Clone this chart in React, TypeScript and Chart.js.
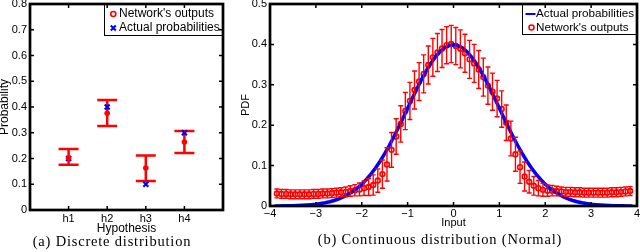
import React, { useEffect, useRef } from 'react';
import { Chart, registerables } from 'chart.js';

Chart.register(...registerables);

// ---------- (a) Discrete distribution ----------
const hypotheses = ['h1', 'h2', 'h3', 'h4'];
const hypothesisPos = [1, 2, 3, 4];
const discreteNetwork = [0.201, 0.376, 0.163, 0.264];
const discreteLower = [0.176, 0.326, 0.113, 0.221];
const discreteUpper = [0.237, 0.427, 0.212, 0.307];
const discreteActual = [0.2, 0.4, 0.1, 0.3];
const discreteYTicks = [0, 0.1, 0.2, 0.3, 0.4, 0.5, 0.6, 0.7, 0.8];

// ---------- (b) Continuous distribution (Normal) ----------
const inputX = [
  -3.85, -3.75, -3.65, -3.55, -3.45, -3.35, -3.25, -3.15, -3.05, -2.95,
  -2.85, -2.75, -2.65, -2.55, -2.45, -2.35, -2.25, -2.15, -2.05, -1.95,
  -1.85, -1.75, -1.65, -1.55, -1.45, -1.35, -1.25, -1.15, -1.05, -0.95,
  -0.85, -0.75, -0.65, -0.55, -0.45, -0.35, -0.25, -0.15, -0.05,
  0.05, 0.15, 0.25, 0.35, 0.45, 0.55, 0.65, 0.75, 0.85, 0.95,
  1.05, 1.15, 1.25, 1.35, 1.45, 1.55, 1.65, 1.75, 1.85, 1.95,
  2.05, 2.15, 2.25, 2.35, 2.45, 2.55, 2.65, 2.75, 2.85, 2.95,
  3.05, 3.15, 3.25, 3.35, 3.45, 3.55, 3.65, 3.75, 3.85,
];
const networkPdf = [
  0.031, 0.030, 0.030, 0.029, 0.029, 0.029, 0.029, 0.029, 0.030, 0.030,
  0.031, 0.031, 0.032, 0.033, 0.034, 0.035, 0.037, 0.039, 0.041, 0.044,
  0.047, 0.052, 0.063, 0.079, 0.103, 0.139, 0.172, 0.203, 0.235, 0.260,
  0.287, 0.308, 0.327, 0.349, 0.368, 0.380, 0.390, 0.398, 0.401,
  0.396, 0.389, 0.378, 0.363, 0.353, 0.338, 0.319, 0.298, 0.283, 0.266,
  0.240, 0.206, 0.167, 0.128, 0.096, 0.073, 0.060, 0.050, 0.044, 0.040,
  0.038, 0.038, 0.037, 0.036, 0.035, 0.035, 0.034, 0.034, 0.033, 0.033,
  0.033, 0.033, 0.033, 0.033, 0.034, 0.034, 0.035, 0.036, 0.037,
];
const networkErr = [
  0.011, 0.011, 0.011, 0.011, 0.011, 0.011, 0.011, 0.011, 0.011, 0.011,
  0.011, 0.011, 0.011, 0.011, 0.011, 0.012, 0.013, 0.014, 0.016, 0.018,
  0.021, 0.025, 0.029, 0.035, 0.041, 0.043, 0.044, 0.045, 0.046, 0.046,
  0.047, 0.047, 0.047, 0.047, 0.047, 0.047, 0.047, 0.046, 0.046,
  0.046, 0.047, 0.047, 0.047, 0.047, 0.047, 0.047, 0.046, 0.046, 0.045,
  0.045, 0.044, 0.043, 0.042, 0.040, 0.036, 0.028, 0.023, 0.019, 0.016,
  0.014, 0.013, 0.012, 0.011, 0.011, 0.011, 0.011, 0.011, 0.011, 0.011,
  0.011, 0.011, 0.011, 0.011, 0.011, 0.011, 0.011, 0.011, 0.011,
];
const curveX = [
  -3.9, -3.8, -3.7, -3.6, -3.5, -3.4, -3.3, -3.2, -3.1, -3.0,
  -2.9, -2.8, -2.7, -2.6, -2.5, -2.4, -2.3, -2.2, -2.1, -2.0,
  -1.9, -1.8, -1.7, -1.6, -1.5, -1.4, -1.3, -1.2, -1.1, -1.0,
  -0.9, -0.8, -0.7, -0.6, -0.5, -0.4, -0.3, -0.2, -0.1, 0.0,
  0.1, 0.2, 0.3, 0.4, 0.5, 0.6, 0.7, 0.8, 0.9, 1.0,
  1.1, 1.2, 1.3, 1.4, 1.5, 1.6, 1.7, 1.8, 1.9, 2.0,
  2.1, 2.2, 2.3, 2.4, 2.5, 2.6, 2.7, 2.8, 2.9, 3.0,
  3.1, 3.2, 3.3, 3.4, 3.5, 3.6, 3.7, 3.8, 3.9,
];
const actualPdf = [
  0.0002, 0.0003, 0.0004, 0.0006, 0.0009, 0.0012, 0.0017, 0.0024, 0.0033, 0.0044,
  0.0060, 0.0079, 0.0104, 0.0136, 0.0175, 0.0224, 0.0283, 0.0355, 0.0440, 0.0540,
  0.0656, 0.0790, 0.0940, 0.1109, 0.1295, 0.1497, 0.1714, 0.1942, 0.2179, 0.2420,
  0.2661, 0.2897, 0.3123, 0.3332, 0.3521, 0.3683, 0.3814, 0.3910, 0.3970, 0.3989,
  0.3970, 0.3910, 0.3814, 0.3683, 0.3521, 0.3332, 0.3123, 0.2897, 0.2661, 0.2420,
  0.2179, 0.1942, 0.1714, 0.1497, 0.1295, 0.1109, 0.0940, 0.0790, 0.0656, 0.0540,
  0.0440, 0.0355, 0.0283, 0.0224, 0.0175, 0.0136, 0.0104, 0.0079, 0.0060, 0.0044,
  0.0033, 0.0024, 0.0017, 0.0012, 0.0009, 0.0006, 0.0004, 0.0003, 0.0002,
];
const inputTicks = [-4, -3, -2, -1, 0, 1, 2, 3, 4];
const pdfTicks = [0, 0.1, 0.2, 0.3, 0.4, 0.5];

const RED = '#ff0000';
const BLUE = '#0000ff';
const SANS = '"Liberation Sans", Arial, Helvetica, sans-serif';

function errorBarPlugin(
  id: string, xs: number[], lo: number[], hi: number[],
  capHalf: number, lw: number, afterIndex: number,
) {
  const draw = (chart: any) => {
    const { ctx } = chart;
    const x = chart.scales.x;
    const y = chart.scales.y;
    ctx.save();
    ctx.strokeStyle = RED;
    ctx.lineWidth = lw;
    ctx.beginPath();
    for (let i = 0; i < xs.length; i++) {
      const px = x.getPixelForValue(xs[i]);
      const pl = y.getPixelForValue(lo[i]);
      const ph = y.getPixelForValue(hi[i]);
      ctx.moveTo(px, pl); ctx.lineTo(px, ph);
      ctx.moveTo(px - capHalf, pl); ctx.lineTo(px + capHalf, pl);
      ctx.moveTo(px - capHalf, ph); ctx.lineTo(px + capHalf, ph);
    }
    ctx.stroke();
    ctx.restore();
  };
  return {
    id,
    beforeDatasetsDraw(chart: any) { if (afterIndex < 0) draw(chart); },
    afterDatasetDraw(chart: any, args: any) { if (afterIndex >= 0 && args.index === afterIndex) draw(chart); },
  };
}

type LegendItem = { kind: 'ring' | 'cross' | 'line'; color: string; text: string };

function decorPlugin(
  id: string, xTicks: number[], yTicks: number[],
  legendBox: { x0: number; y0: number; x1: number; y1: number },
  items: LegendItem[], markerX: number, textX: number, rowY: number[], fontSize: number,
) {
  return {
    id,
    afterDraw(chart: any) {
      const { ctx, chartArea } = chart;
      const x = chart.scales.x;
      const y = chart.scales.y;
      const { left, right, top, bottom } = chartArea;
      ctx.save();
      // legend
      ctx.fillStyle = '#fff';
      ctx.fillRect(legendBox.x0, legendBox.y0, legendBox.x1 - legendBox.x0, legendBox.y1 - legendBox.y0);
      ctx.strokeStyle = '#000';
      ctx.lineWidth = 1;
      ctx.strokeRect(legendBox.x0 + 0.5, legendBox.y0 + 0.5, legendBox.x1 - legendBox.x0, legendBox.y1 - legendBox.y0);
      ctx.font = `${fontSize}px ${SANS}`;
      ctx.textBaseline = 'middle';
      ctx.textAlign = 'left';
      items.forEach((it, i) => {
        const cy = rowY[i];
        if (it.kind === 'ring') {
          ctx.strokeStyle = it.color; ctx.lineWidth = 1.6;
          ctx.beginPath(); ctx.arc(markerX, cy, 2.5, 0, Math.PI * 2); ctx.stroke();
        } else if (it.kind === 'cross') {
          ctx.strokeStyle = it.color; ctx.lineWidth = 2;
          ctx.beginPath();
          ctx.moveTo(markerX - 2.5, cy - 2.5); ctx.lineTo(markerX + 2.5, cy + 2.5);
          ctx.moveTo(markerX + 2.5, cy - 2.5); ctx.lineTo(markerX - 2.5, cy + 2.5);
          ctx.stroke();
        } else {
          ctx.strokeStyle = it.color; ctx.lineWidth = 2;
          ctx.beginPath(); ctx.moveTo(markerX - 6, cy); ctx.lineTo(markerX + 4, cy); ctx.stroke();
        }
        ctx.fillStyle = '#000';
        ctx.fillText(it.text, textX, cy);
      });
      // inward ticks
      ctx.strokeStyle = '#000';
      ctx.lineWidth = 1.5;
      ctx.beginPath();
      xTicks.forEach((v) => {
        const px = x.getPixelForValue(v);
        ctx.moveTo(px, bottom); ctx.lineTo(px, bottom - 4);
        ctx.moveTo(px, top); ctx.lineTo(px, top + 4);
      });
      yTicks.forEach((v) => {
        const py = y.getPixelForValue(v);
        ctx.moveTo(left, py); ctx.lineTo(left + 4, py);
        ctx.moveTo(right, py); ctx.lineTo(right - 4, py);
      });
      ctx.stroke();
      // frame
      ctx.lineWidth = 2.7;
      ctx.strokeRect(left, top, right - left, bottom - top);
      ctx.restore();
    },
  };
}

function fixSize(w: number | null, h: number | null) {
  return (s: any) => {
    if (w !== null) s.width = w;
    if (h !== null) s.height = h;
    s.paddingLeft = 0; s.paddingRight = 0; s.paddingTop = 0; s.paddingBottom = 0;
  };
}

function fmtDec(v: number) {
  return Math.abs(v) < 1e-9 ? '0' : v.toFixed(1);
}

function leftConfig(): any {
  return {
    type: 'scatter',
    data: {
      datasets: [
        {
          label: "Network's outputs",
          data: hypothesisPos.map((x, i) => ({ x, y: discreteNetwork[i] })),
          pointStyle: 'circle', pointRadius: 2.8, backgroundColor: RED, borderColor: RED, borderWidth: 0,
        },
        {
          label: 'Actual probabilities',
          data: hypothesisPos.map((x, i) => ({ x, y: discreteActual[i] })),
          pointStyle: 'crossRot', pointRadius: 3.5, borderColor: BLUE, backgroundColor: BLUE, borderWidth: 2.2,
        },
      ],
    },
    options: {
      responsive: false, animation: false, events: [],
      layout: { padding: { left: 0, top: 4, right: 12, bottom: 0 }, autoPadding: false },
      plugins: { legend: { display: false }, tooltip: { enabled: false } },
      scales: {
        x: {
          type: 'linear', min: 0, max: 5,
          grid: { display: false, drawTicks: false }, border: { display: false },
          afterBuildTicks: (s: any) => { s.ticks = hypothesisPos.map((v) => ({ value: v })); },
          ticks: {
            autoSkip: false, maxRotation: 0, padding: 2, color: '#000', font: { size: 11, family: SANS },
            callback: (v: any) => hypotheses[hypothesisPos.indexOf(Number(v))] ?? '',
          },
          title: { display: true, text: 'Hypothesis', color: '#000', font: { size: 12, family: SANS }, padding: { top: 0, bottom: 0.5 } },
          afterFit: fixSize(null, 26),
        },
        y: {
          type: 'linear', min: 0, max: 0.8,
          grid: { display: false, drawTicks: false }, border: { display: false },
          afterBuildTicks: (s: any) => { s.ticks = discreteYTicks.map((v) => ({ value: v })); },
          ticks: {
            autoSkip: false, padding: 3, color: '#000', font: { size: 11, family: SANS },
            callback: (v: any) => fmtDec(Number(v)),
          },
          title: { display: true, text: 'Probability', color: '#000', font: { size: 12, family: SANS }, padding: { top: -2.7, bottom: 0 } },
          afterFit: fixSize(30, null),
        },
      },
    },
    plugins: [
      errorBarPlugin('ebLeft', hypothesisPos, discreteLower, discreteUpper, 10, 2.5, -1),
      decorPlugin(
        'decorLeft', hypothesisPos, [0.1, 0.2, 0.3, 0.4, 0.5, 0.6, 0.7],
        { x0: 104, y0: 4, x1: 223, y1: 35 },
        [
          { kind: 'ring', color: RED, text: "Network's outputs" },
          { kind: 'cross', color: BLUE, text: 'Actual probabilities' },
        ],
        113.3, 119, [14, 28], 12,
      ),
    ],
  };
}

function rightConfig(): any {
  return {
    type: 'scatter',
    data: {
      datasets: [
        {
          label: 'Actual probabilities',
          data: curveX.map((x, i) => ({ x, y: actualPdf[i] })),
          showLine: true, borderColor: BLUE, borderWidth: 3.5, pointRadius: 0, tension: 0, fill: false,
        },
        {
          label: "Network's outputs",
          data: inputX.map((x, i) => ({ x, y: networkPdf[i] })),
          pointStyle: 'circle', pointRadius: 2.4, borderColor: RED, backgroundColor: 'rgba(0,0,0,0)', borderWidth: 1.6,
        },
      ],
    },
    options: {
      responsive: false, animation: false, events: [],
      layout: { padding: { left: 0, top: 4, right: 3, bottom: 0 }, autoPadding: false },
      plugins: { legend: { display: false }, tooltip: { enabled: false } },
      scales: {
        x: {
          type: 'linear', min: -4, max: 4,
          grid: { display: false, drawTicks: false }, border: { display: false },
          afterBuildTicks: (s: any) => { s.ticks = inputTicks.map((v) => ({ value: v })); },
          ticks: {
            autoSkip: false, maxRotation: 0, padding: 1, color: '#000', font: { size: 11, family: SANS },
            callback: (v: any) => (Number(v) < 0 ? '\u2212' + Math.abs(Number(v)) : String(v)),
          },
          title: { display: true, text: 'Input', color: '#000', font: { size: 11, family: SANS }, padding: { top: 0, bottom: 6 } },
          afterFit: fixSize(null, 30),
        },
        y: {
          type: 'linear', min: 0, max: 0.5,
          grid: { display: false, drawTicks: false }, border: { display: false },
          afterBuildTicks: (s: any) => { s.ticks = pdfTicks.map((v) => ({ value: v })); },
          ticks: {
            autoSkip: false, padding: 3, color: '#000', font: { size: 11, family: SANS },
            callback: (v: any) => fmtDec(Number(v)),
          },
          title: { display: true, text: 'PDF', color: '#000', font: { size: 11, family: SANS }, padding: { top: 4.2, bottom: 0 } },
          afterFit: fixSize(35, null),
        },
      },
    },
    plugins: [
      errorBarPlugin(
        'ebRight', inputX,
        networkPdf.map((v, i) => v - networkErr[i]),
        networkPdf.map((v, i) => v + networkErr[i]),
        2.5, 1.4, 0,
      ),
      decorPlugin(
        'decorRight', [-3, -2, -1, 0, 1, 2, 3], [0.1, 0.2, 0.3, 0.4],
        { x0: 287, y0: 4, x1: 402, y1: 34 },
        [
          { kind: 'line', color: BLUE, text: 'Actual probabilities' },
          { kind: 'ring', color: RED, text: "Network's outputs" },
        ],
        296.5, 301, [14, 27.5], 11.7,
      ),
    ],
  };
}

export default function App() {
  const leftRef = useRef<HTMLCanvasElement>(null);
  const rightRef = useRef<HTMLCanvasElement>(null);

  useEffect(() => {
    Chart.defaults.font.family = SANS;
    Chart.defaults.color = '#000';
    const left = new Chart(leftRef.current as HTMLCanvasElement, leftConfig());
    const right = new Chart(rightRef.current as HTMLCanvasElement, rightConfig());
    return () => {
      left.destroy();
      right.destroy();
    };
  }, []);

  const caption: React.CSSProperties = {
    position: 'absolute',
    fontFamily: '"Liberation Serif", "Times New Roman", serif',
    fontSize: 14.5,
    lineHeight: '16px',
    letterSpacing: '0.8px',
    textAlign: 'center',
    whiteSpace: 'nowrap',
    color: '#000',
  };

  return (
    <div style={{ position: 'absolute', left: 0, top: 0, width: 640, height: 252, background: '#fff', overflow: 'hidden' }}>
      <canvas
        ref={leftRef}
        width={235}
        height={236}
        style={{ position: 'absolute', left: 0, top: 0, width: 235, height: 236 }}
      />
      <canvas
        ref={rightRef}
        width={405}
        height={236}
        style={{ position: 'absolute', left: 235, top: 0, width: 405, height: 236 }}
      />
      <div style={{ ...caption, left: 12, width: 200, top: 233 }}>(a) Discrete distribution</div>
      <div style={{ ...caption, left: 290, width: 300, top: 230.5 }}>(b) Continuous distribution (Normal)</div>
    </div>
  );
}
